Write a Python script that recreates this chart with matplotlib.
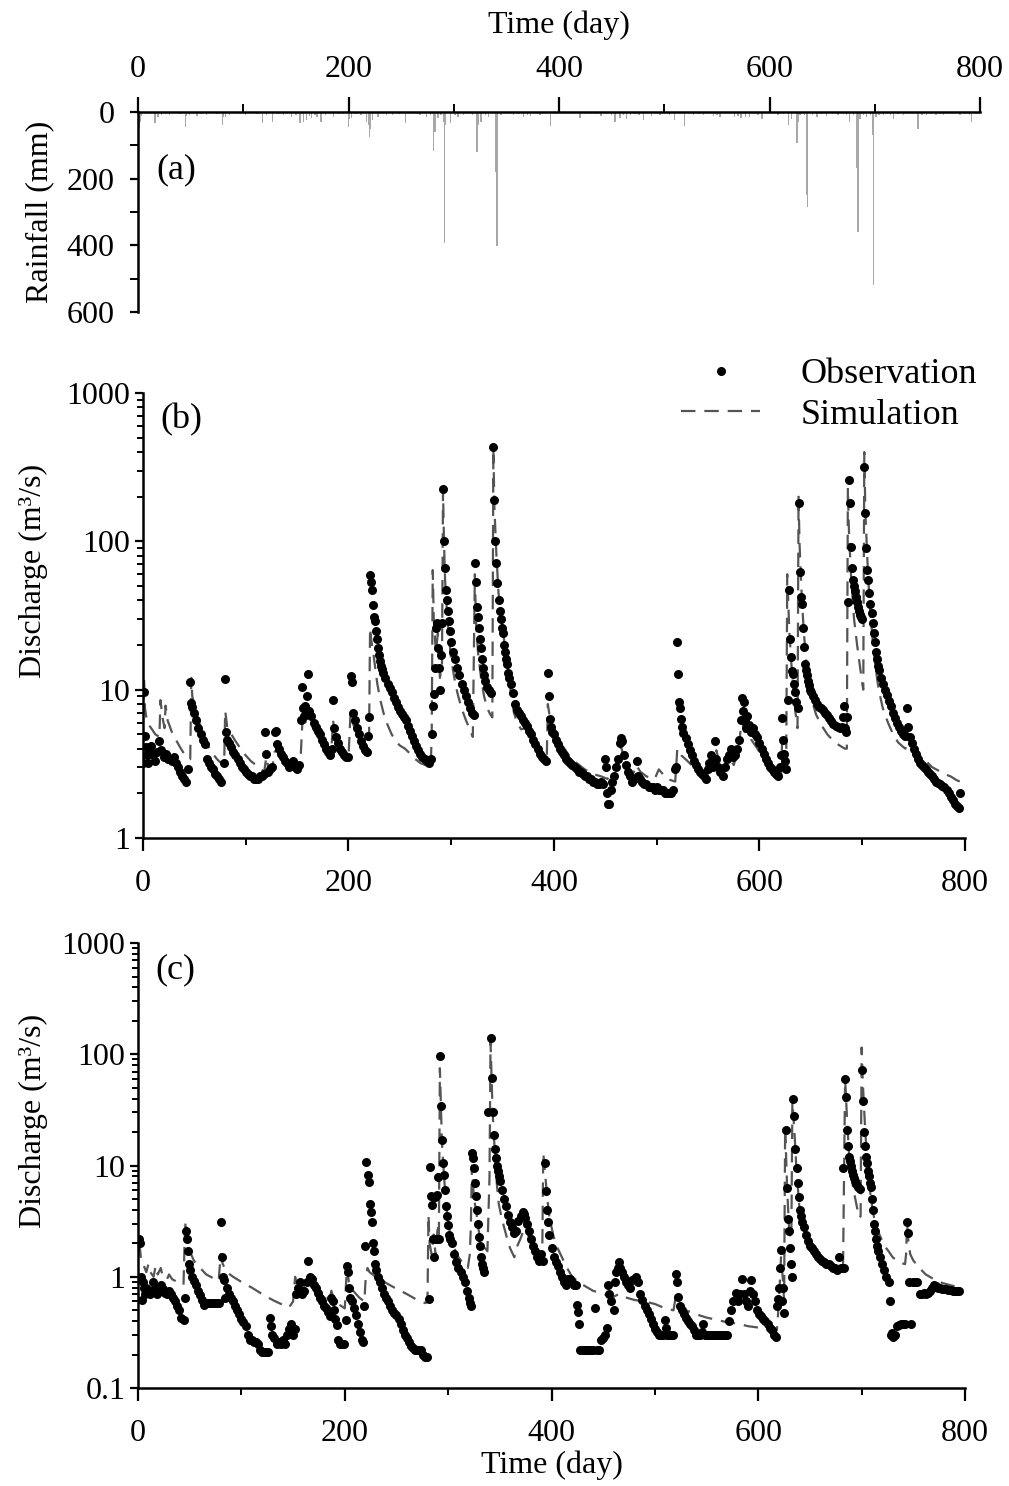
import matplotlib
matplotlib.use("Agg")
import matplotlib.pyplot as plt
from matplotlib.ticker import MultipleLocator, LogLocator, NullFormatter, FuncFormatter

plt.rcParams['font.family'] = ['Liberation Serif', 'DejaVu Serif']

# ---- data ----
# (a) daily rainfall (day, mm)
rain = [(1, 49), (2, 30), (3, 12), (6, 4), (9, 6), (13, 5), (16, 34), (19, 14), (22, 9), (26, 5),
        (30, 9), (35, 4), (40, 6), (45, 46), (46, 12), (49, 9), (53, 5), (56, 12), (60, 5), (65, 9),
        (70, 4), (75, 6), (80, 39), (81, 15), (83, 14), (87, 9), (92, 4), (97, 5), (102, 9), (108, 4),
        (113, 6), (118, 34), (122, 8), (128, 29), (133, 6), (138, 9), (142, 5), (146, 14), (150, 8), (154, 34),
        (157, 29), (160, 24), (163, 12), (165, 19), (168, 10), (170, 14), (174, 29), (178, 8), (182, 6), (186, 14),
        (190, 5), (195, 7), (200, 44), (201, 20), (203, 19), (207, 6), (212, 8), (217, 29), (219, 40), (220, 74),
        (221, 50), (223, 24), (228, 14), (232, 6), (236, 9), (242, 9), (248, 5), (254, 34), (260, 5), (265, 6),
        (268, 9), (274, 14), (278, 8), (281, 116), (282, 60), (285, 19), (288, 10), (290, 30), (291, 394), (292, 40),
        (297, 34), (301, 9), (304, 14), (309, 9), (314, 5), (318, 8), (322, 121), (323, 40), (326, 29), (330, 8),
        (333, 14), (337, 6), (340, 179), (341, 402), (345, 10), (350, 6), (357, 9), (362, 5), (366, 14), (370, 8),
        (373, 12), (378, 6), (382, 9), (387, 5), (392, 42), (396, 6), (401, 4), (404, 6), (407, 4), (412, 5),
        (420, 19), (425, 5), (430, 6), (436, 5), (440, 12), (445, 6), (450, 9), (453, 31), (458, 19), (461, 8),
        (464, 22), (468, 9), (472, 5), (476, 8), (480, 24), (484, 6), (488, 12), (492, 5), (496, 9), (500, 5),
        (505, 8), (510, 24), (515, 6), (519, 42), (524, 5), (528, 9), (533, 5), (537, 9), (542, 6), (547, 12),
        (550, 8), (553, 14), (558, 6), (562, 5), (567, 16), (570, 12), (573, 19), (577, 14), (581, 14), (585, 6),
        (589, 8), (593, 22), (598, 5), (603, 6), (608, 9), (613, 5), (618, 39), (621, 20), (626, 94), (627, 30),
        (629, 10), (633, 8), (635, 250), (636, 284), (641, 8), (645, 14), (649, 6), (654, 12), (660, 5), (665, 9),
        (670, 6), (673, 9), (676, 31), (680, 10), (683, 169), (684, 359), (686, 20), (689, 8), (692, 14), (696, 10),
        (698, 69), (699, 519), (701, 14), (704, 8), (708, 9), (712, 6), (715, 8), (718, 22), (722, 5), (727, 9),
        (732, 5), (736, 6), (741, 52), (745, 8), (749, 9), (753, 5), (758, 8), (762, 5), (765, 9), (770, 5),
        (775, 6), (781, 9), (786, 5), (790, 8), (792, 31), (796, 5)]

# (b) observed discharge (day, m3/s)
obs_b = [(0, 3.2), (1, 9.6), (2, 4.9), (3, 4.1), (4, 3.6), (5, 3.2), (6, 3.9), (8, 4.2), (10, 3.6), (12, 3.3),
         (14, 3.8), (16, 4.5), (18, 3.9), (20, 3.5), (22, 3.7), (24, 3.4), (26, 3.4), (28, 3.3), (30, 3.5), (32, 3.2),
         (34, 3.0), (36, 2.8), (38, 2.6), (40, 2.5), (42, 2.4), (44, 2.9),
         (46, 11.2), (47, 8.1), (48, 7.6), (50, 7.0), (52, 6.2), (54, 5.5), (56, 5.0), (58, 4.6), (60, 4.3),
         (62, 3.4), (64, 3.2), (66, 3.0), (68, 2.9), (70, 2.7), (72, 2.6), (74, 2.5), (76, 2.4), (79, 3.2),
         (80, 11.8), (81, 5.2), (82, 4.6), (84, 4.4), (86, 4.1), (88, 3.8), (90, 3.6), (92, 3.4), (94, 3.2), (96, 3.0),
         (98, 2.9), (100, 2.8), (102, 2.7), (104, 2.6), (106, 2.6), (108, 2.5), (110, 2.5), (112, 2.5), (114, 2.6),
         (116, 2.6), (118, 2.7), (119, 5.2), (120, 3.7), (122, 2.8), (124, 2.9), (126, 3.0), (128, 5.2), (129, 5.3),
         (130, 4.3), (132, 4.0), (134, 3.7), (136, 3.5), (138, 3.3), (140, 3.2), (142, 3.0), (144, 3.1), (146, 3.3),
         (148, 3.0), (150, 2.9), (152, 3.1),
         (154, 6.2), (155, 10.5), (156, 7.5), (157, 6.6), (158, 7.8), (160, 9.0), (161, 12.8), (162, 7.2), (164, 6.6),
         (166, 6.0), (168, 5.6), (170, 5.3), (172, 5.0), (174, 4.6), (176, 4.3), (178, 4.0), (180, 3.8), (182, 3.6),
         (184, 4.0), (185, 8.5), (186, 5.5), (188, 4.8), (190, 4.4), (192, 4.0), (194, 3.8), (196, 3.6), (198, 3.5),
         (200, 3.5), (202, 12.3), (203, 11.3), (204, 7.0), (206, 6.2), (208, 5.5), (210, 5.0), (212, 4.5), (214, 4.2),
         (216, 3.9), (218, 3.8), (219, 4.9), (220, 6.5),
         (221, 59), (222, 53), (223, 47), (224, 37), (225, 31), (226, 29), (227, 25), (228, 22), (229, 19), (230, 17),
         (231, 15.5), (232, 14.5), (233, 13.8), (234, 13), (236, 12), (238, 11), (240, 10.3), (242, 9.6), (244, 8.8),
         (246, 8.2), (248, 7.6), (250, 7.2), (252, 6.8), (254, 6.5), (256, 6.2), (258, 5.7), (260, 5.3), (262, 4.9),
         (264, 4.5), (266, 4.2), (268, 3.9), (270, 3.7), (272, 3.5), (274, 3.4), (276, 3.3), (278, 3.2), (280, 3.4),
         (281, 5.0), (282, 7.7), (283, 9.3), (284, 14), (285, 26), (286, 28), (287, 19), (288, 14), (289, 10),
         (290, 17), (291, 28), (292, 227), (293, 100), (294, 66), (295, 47), (296, 40), (297, 34), (298, 29), (299, 25),
         (300, 21), (302, 18), (304, 16), (306, 14), (308, 12.5), (310, 11), (312, 10), (314, 9), (316, 8.2),
         (318, 7.5), (320, 7.0), (322, 6.7),
         (323, 71), (324, 53), (325, 36), (326, 31), (327, 26), (328, 22), (329, 19), (330, 16), (331, 14), (332, 12.5),
         (333, 11.5), (335, 10.5), (337, 10), (339, 9.5), (341, 433), (342, 190), (343, 100), (344, 71), (345, 52),
         (346, 40), (347, 34), (348, 30), (349, 26), (350, 24), (351, 20), (352, 18), (353, 16), (354, 15), (355, 13),
         (356, 12), (358, 11), (360, 9.5), (362, 8), (364, 7.3), (366, 7.0), (368, 6.6), (370, 6.2), (372, 6.0),
         (374, 5.7), (376, 5.3), (378, 5.0), (380, 4.6), (382, 4.3), (384, 4.0), (386, 3.7), (388, 3.5), (390, 3.4),
         (392, 3.3),
         (394, 13), (395, 9.1), (396, 6.3), (397, 5.6), (398, 5.2), (400, 5.0), (402, 4.6), (404, 4.3), (406, 4.0),
         (408, 3.8), (410, 3.6), (412, 3.4), (414, 3.3), (416, 3.2), (418, 3.1), (420, 3.0), (422, 2.9), (424, 2.8),
         (426, 2.8), (428, 2.7), (430, 2.6), (432, 2.6), (434, 2.5), (436, 2.5), (438, 2.4), (440, 2.4), (442, 2.3),
         (444, 2.3), (446, 2.4), (448, 2.3),
         (450, 3.4), (451, 3.0), (452, 2.0), (453, 1.7), (454, 1.7), (455, 2.1), (456, 2.4), (458, 2.6), (460, 3.0),
         (462, 3.4), (464, 4.4), (465, 4.7), (466, 4.5), (468, 3.6), (470, 3.1), (472, 2.8), (474, 2.6), (476, 2.4),
         (478, 2.5), (481, 3.3), (482, 2.6), (484, 2.5), (486, 2.4), (488, 2.3), (490, 2.3), (492, 2.2), (494, 2.2),
         (496, 2.2), (498, 2.1), (500, 2.2), (502, 2.1), (504, 2.1), (506, 2.1), (508, 2.0), (510, 2.0), (512, 2.0),
         (514, 2.0), (516, 2.1), (518, 2.9),
         (519, 3.0), (520, 21), (521, 12.7), (522, 8.2), (523, 7.5), (524, 6.3), (525, 5.6), (526, 5.1), (528, 4.7),
         (530, 4.3), (532, 3.9), (534, 3.6), (536, 3.3), (538, 3.1), (540, 2.9), (542, 2.8), (544, 2.7), (546, 2.6),
         (548, 2.5), (550, 2.9), (551, 3.2), (553, 3.6), (555, 3.0), (557, 4.5), (558, 3.4), (560, 3.0), (562, 2.8),
         (564, 2.6), (566, 3.0), (568, 3.4), (570, 3.6), (572, 4.0), (574, 3.5), (576, 3.6), (578, 4.0), (580, 4.6),
         (582, 6.2), (583, 8.8), (584, 7.2), (585, 8.2), (586, 6.1), (587, 5.5), (588, 6.6), (590, 5.8), (592, 5.2),
         (594, 5.5), (596, 5.0), (598, 4.8), (600, 4.4), (602, 4.0), (604, 3.7), (606, 3.4), (608, 3.2), (610, 3.0),
         (612, 2.9), (614, 2.8), (616, 2.7), (618, 2.6),
         (620, 3.0), (621, 3.6), (622, 6.4), (623, 4.6), (624, 3.7), (625, 3.3), (626, 2.9), (628, 8.5), (629, 47),
         (630, 22), (631, 16.5), (632, 13.4), (633, 12.7), (634, 11), (635, 9.6), (636, 8.3), (637, 7.5), (638, 182),
         (639, 62), (640, 42), (641, 38), (642, 26), (643, 19.5), (644, 15), (645, 13.5), (646, 12.5), (647, 11.5),
         (648, 10.7), (649, 10), (650, 9.6), (652, 9.0), (654, 8.5), (656, 8.0), (658, 7.6), (660, 7.5), (662, 7.3),
         (664, 7.0), (666, 6.7), (668, 6.4), (670, 6.1), (672, 5.9), (674, 5.7), (676, 5.6), (678, 5.5), (680, 5.6),
         (681, 6.5), (682, 7.8), (683, 5.5), (684, 5.2),
         (685, 6.5), (686, 39), (687, 259), (688, 180), (689, 92), (690, 66), (691, 55), (692, 50), (693, 46),
         (694, 42), (695, 39), (696, 36), (697, 34), (698, 32), (699, 31), (700, 30), (702, 319), (703, 155),
         (704, 90), (705, 64), (706, 55), (707, 45), (708, 38), (709, 33), (710, 28), (711, 24), (712, 21), (713, 18),
         (714, 16), (715, 14.5), (716, 13.5), (718, 12), (720, 11), (722, 10), (724, 9.2), (726, 8.4), (728, 7.7),
         (730, 7.0), (732, 6.4), (734, 6.0), (736, 5.6), (738, 5.3), (740, 5.0), (742, 4.9), (744, 7.5), (745, 5.6),
         (746, 4.8), (748, 4.4), (750, 4.0), (752, 3.7), (754, 3.4), (756, 3.2), (758, 3.1), (760, 3.0), (762, 2.9),
         (764, 2.8), (766, 2.7), (768, 2.6), (770, 2.5), (772, 2.4), (774, 2.35), (776, 2.3), (778, 2.25), (780, 2.2),
         (782, 2.1), (784, 2.0), (786, 1.9), (788, 1.8), (790, 1.7), (792, 1.65), (794, 1.6), (795, 2.0)]

# (b) simulated discharge (day, m3/s)
sim_b = [(0, 6.0), (1, 12), (2, 7.5), (4, 6.0), (8, 5.5), (12, 5.0), (16, 4.8), (17, 8.5), (19, 6.5), (21, 5.5),
         (22, 7.8), (24, 6.2), (28, 5.2), (32, 4.6), (36, 4.1), (40, 3.7), (44, 3.5), (46, 3.4), (47, 12), (48, 9.0),
         (52, 7.0), (56, 5.6), (60, 4.7), (64, 4.1), (68, 3.7), (72, 3.4), (76, 3.2), (79, 3.1), (80, 7.2), (82, 5.6),
         (86, 5.0), (90, 4.5), (95, 4.0), (100, 3.6), (105, 3.3), (110, 3.1), (115, 2.9), (118, 2.8), (120, 3.5),
         (122, 3.0), (126, 3.0), (128, 3.8), (130, 3.9), (135, 3.6), (140, 3.3), (145, 3.1), (150, 3.0), (153, 3.0),
         (155, 5.8), (157, 7.0), (158, 6.0), (160, 8.0), (162, 6.2), (166, 5.4), (170, 4.8), (175, 4.3), (180, 3.8),
         (183, 3.6), (185, 6.2), (187, 4.8), (192, 4.1), (196, 3.7), (200, 3.5), (202, 7.0), (204, 6.0), (208, 5.1),
         (212, 4.4), (216, 4.0), (219, 3.8), (220, 4.5), (221, 26), (222, 22), (224, 18), (226, 14), (228, 11),
         (231, 8.5), (234, 7.0), (238, 5.8), (242, 5.0), (246, 4.5), (250, 4.2), (255, 4.0), (260, 3.7), (265, 3.4),
         (270, 3.2), (275, 3.1), (280, 3.0), (281, 5.0), (282, 64), (283, 30), (285, 18), (287, 24), (289, 12),
         (291, 15), (292, 220), (293, 95), (294, 55), (296, 32), (298, 22), (300, 16), (303, 12), (306, 9.5),
         (310, 7.5), (314, 6.3), (318, 5.4), (321, 4.8), (323, 60), (324, 30), (326, 18), (329, 12), (332, 9.0),
         (335, 7.5), (338, 6.8), (340, 6.5), (341, 430), (342, 170), (344, 80), (346, 45), (349, 30), (352, 20),
         (355, 14), (358, 9.5), (361, 7.0), (364, 6.0), (368, 5.4), (372, 5.5), (376, 4.9), (380, 4.5), (385, 4.0),
         (390, 3.6), (393, 3.5), (394, 8.0), (396, 6.5), (400, 5.4), (405, 4.5), (410, 4.0), (416, 3.5), (422, 3.2),
         (430, 2.9), (438, 2.7), (446, 2.6), (452, 2.5), (458, 2.8), (462, 3.4), (465, 4.2), (468, 3.5), (472, 3.0),
         (477, 2.7), (480, 3.1), (484, 2.8), (490, 2.6), (498, 2.5), (502, 2.9), (510, 2.5), (518, 2.4), (520, 4.0),
         (524, 3.6), (530, 3.3), (538, 2.9), (546, 2.7), (551, 3.4), (555, 3.0), (558, 3.9), (562, 3.0), (566, 2.8),
         (570, 3.5), (575, 3.1), (580, 4.2), (583, 6.5), (585, 5.0), (588, 5.8), (592, 4.6), (598, 4.0), (604, 3.4),
         (610, 3.0), (616, 2.7), (621, 2.6), (622, 4.5), (624, 3.6), (626, 3.3), (627, 60), (629, 25), (631, 15),
         (633, 10), (635, 7.0), (637, 5.5), (638, 200), (639, 95), (641, 45), (643, 25), (646, 14), (650, 9.0),
         (655, 6.8), (660, 5.8), (666, 5.0), (672, 4.5), (678, 4.2), (683, 4.0), (685, 4.0), (686, 230), (687, 120),
         (689, 60), (692, 30), (695, 20), (698, 14), (700, 11), (701, 10), (702, 400), (703, 160), (705, 75),
         (707, 40), (710, 22), (713, 14), (716, 10), (720, 7.5), (725, 6.0), (730, 5.0), (735, 4.4), (740, 4.1),
         (742, 4.0), (744, 5.3), (746, 4.5), (750, 4.0), (756, 3.6), (762, 3.3), (768, 3.0), (774, 2.85), (780, 2.7),
         (786, 2.6), (792, 2.45), (795, 2.4)]

# (c) observed discharge (day, m3/s)
obs_c = [(1, 2.2), (2, 2.0), (3, 1.0), (4, 0.62), (5, 0.89), (6, 0.8), (7, 0.7), (8, 0.8), (10, 0.76), (12, 0.7),
         (14, 0.9), (16, 0.8), (18, 0.7), (20, 0.75), (22, 0.85), (24, 0.78), (26, 0.72), (28, 0.7), (30, 0.75),
         (32, 0.7), (34, 0.65), (36, 0.6), (38, 0.55), (40, 0.5), (42, 0.43), (44, 0.41),
         (45, 0.65), (46, 2.6), (47, 2.2), (48, 1.7), (49, 1.3), (50, 1.15), (52, 1.0), (54, 0.92), (56, 0.85),
         (58, 0.75), (60, 0.68), (62, 0.62), (64, 0.56), (66, 0.58), (68, 0.58), (70, 0.58), (72, 0.58), (74, 0.58),
         (76, 0.58), (78, 0.58),
         (80, 3.1), (81, 1.5), (82, 1.0), (83, 0.94), (84, 0.65), (86, 0.8), (88, 0.7), (90, 0.65), (92, 0.6),
         (94, 0.55), (96, 0.5), (98, 0.46), (100, 0.42), (102, 0.39), (104, 0.36), (106, 0.3), (108, 0.27),
         (110, 0.27), (112, 0.26), (114, 0.26), (116, 0.25), (118, 0.22), (120, 0.21), (122, 0.21), (124, 0.21),
         (126, 0.21), (128, 0.43), (129, 0.36), (130, 0.3), (132, 0.28), (134, 0.25), (136, 0.26), (138, 0.25),
         (140, 0.27), (142, 0.25), (144, 0.3), (146, 0.34), (148, 0.38), (150, 0.3), (152, 0.34),
         (153, 0.7), (155, 0.8), (157, 0.89), (159, 0.7), (161, 0.75), (163, 0.9), (164, 1.38), (166, 1.0),
         (168, 0.95), (170, 0.85), (172, 0.8), (174, 0.72), (176, 0.65), (178, 0.6), (180, 0.55), (182, 0.52),
         (184, 0.48), (186, 0.44), (187, 0.65), (189, 0.6), (190, 0.5), (191, 0.42), (192, 0.37), (193, 0.27),
         (195, 0.25), (197, 0.25), (199, 0.25),
         (201, 0.41), (202, 1.26), (203, 1.1), (204, 0.8), (205, 0.65), (207, 0.6), (209, 0.52), (211, 0.45),
         (213, 0.38), (215, 0.32), (217, 0.27), (218, 0.26),
         (219, 0.55), (220, 1.9), (221, 10.8), (222, 8.2), (223, 7.1), (224, 4.5), (225, 3.8), (226, 3.1), (227, 2.0),
         (228, 1.7), (229, 1.3), (230, 1.15), (232, 1.0), (234, 0.9), (236, 0.8), (238, 0.7), (240, 0.65), (242, 0.6),
         (244, 0.55), (246, 0.5), (248, 0.47), (250, 0.45), (252, 0.42), (254, 0.38), (256, 0.33), (258, 0.3),
         (260, 0.28), (262, 0.26), (264, 0.24), (266, 0.23), (268, 0.22), (270, 0.22), (272, 0.22), (274, 0.22),
         (276, 0.2), (278, 0.19), (280, 0.19),
         (281, 0.63), (282, 9.8), (283, 5.3), (284, 4.4), (285, 2.2), (286, 1.5), (287, 5.2), (288, 2.2), (289, 5.4),
         (290, 7.9), (291, 2.2), (292, 97), (293, 34), (294, 17), (295, 10.6), (296, 8.3), (297, 6.0), (298, 4.3),
         (299, 3.5), (300, 2.9), (301, 2.4), (302, 2.2), (304, 2.0), (306, 1.6), (308, 1.35), (310, 1.2), (312, 1.1),
         (314, 1.0), (316, 0.9), (318, 0.75), (320, 0.65), (321, 0.58), (322, 0.55),
         (323, 13), (324, 11.6), (325, 9.6), (326, 7.0), (327, 5.3), (328, 4.0), (329, 3.0), (330, 2.3), (331, 1.9),
         (332, 1.5), (333, 1.3), (334, 1.2), (335, 1.1),
         (339, 30), (341, 140), (342, 61), (343, 30), (344, 19), (345, 14), (346, 11.6), (347, 10), (348, 9),
         (349, 8), (350, 7.2), (352, 6.0), (354, 5.0), (356, 4.3), (358, 3.6), (360, 3.1), (362, 2.8), (364, 2.5),
         (366, 2.6), (368, 3.2), (370, 3.5), (372, 3.8), (373, 3.7), (374, 3.4), (376, 3.0), (378, 2.6), (380, 2.2),
         (382, 1.9), (384, 1.7), (386, 1.5), (388, 1.4), (390, 1.6), (392, 1.4),
         (394, 10.6), (395, 5.9), (396, 4.0), (397, 3.1), (398, 2.4), (400, 1.8), (402, 1.5), (404, 1.35),
         (406, 1.25), (408, 1.1), (410, 1.0), (412, 0.9), (414, 0.85), (416, 0.95), (418, 0.95), (420, 0.9),
         (422, 0.85), (424, 0.85), (425, 0.56), (426, 0.48), (427, 0.38), (428, 0.22), (430, 0.22), (432, 0.22),
         (434, 0.22), (436, 0.22), (438, 0.22), (440, 0.22), (442, 0.52), (444, 0.22), (446, 0.22), (448, 0.27),
         (450, 0.28), (452, 0.3), (454, 0.35),
         (455, 0.84), (456, 0.7), (458, 0.6), (460, 0.5), (461, 0.9), (462, 1.1), (464, 1.2), (465, 1.35), (466, 1.2),
         (468, 1.1), (470, 1.0), (472, 0.9), (474, 0.85), (476, 0.8), (478, 0.93), (480, 0.95), (482, 1.0),
         (484, 0.9), (486, 0.7), (488, 0.62), (490, 0.55), (492, 0.5), (494, 0.46), (496, 0.42), (498, 0.38),
         (500, 0.34), (502, 0.32), (504, 0.3), (506, 0.3), (508, 0.3), (510, 0.41), (511, 0.35), (512, 0.3),
         (514, 0.3), (516, 0.3), (518, 0.3),
         (520, 1.07), (521, 0.9), (522, 0.66), (524, 0.55), (526, 0.5), (528, 0.46), (530, 0.43), (532, 0.4),
         (534, 0.38), (536, 0.36), (538, 0.33), (540, 0.3), (542, 0.3), (544, 0.3), (546, 0.32), (547, 0.38),
         (548, 0.3), (550, 0.3), (552, 0.3), (554, 0.3), (556, 0.3), (558, 0.3), (560, 0.3), (562, 0.3), (564, 0.3),
         (566, 0.3), (568, 0.3), (570, 0.3),
         (572, 0.4), (574, 0.5), (576, 0.6), (578, 0.72), (580, 0.6), (582, 0.7), (584, 0.95), (586, 0.7),
         (588, 0.6), (590, 0.55), (592, 0.75), (593, 0.93), (595, 0.7), (597, 0.6), (599, 0.5), (601, 0.46),
         (603, 0.44), (605, 0.42), (607, 0.4), (609, 0.38), (611, 0.35), (613, 0.33), (615, 0.3), (617, 0.29),
         (618, 0.55), (619, 0.63), (620, 0.8), (621, 1.2), (622, 1.73), (623, 0.6), (624, 0.8), (625, 0.47),
         (627, 21), (628, 6.3), (629, 3.3), (630, 2.6), (631, 1.8), (632, 1.3), (633, 1.0), (634, 40), (635, 28),
         (636, 14), (637, 9.6), (638, 7.0), (639, 5.2), (640, 4.0), (641, 3.5), (642, 3.1), (644, 2.8), (646, 2.4),
         (648, 2.1), (650, 1.9), (652, 1.8), (654, 1.7), (656, 1.6), (658, 1.5), (660, 1.45), (662, 1.4),
         (664, 1.35), (666, 1.3), (668, 1.3), (670, 1.25), (672, 1.2), (674, 1.2), (676, 1.15), (678, 1.5),
         (680, 1.2),
         (682, 9.6), (683, 1.2), (684, 60), (685, 41), (686, 21), (687, 15), (688, 12), (689, 11), (690, 10),
         (691, 9.0), (692, 8.3), (693, 7.7), (694, 7.2), (695, 6.8), (696, 6.4), (698, 6.2), (700, 72), (701, 38),
         (702, 20), (703, 15), (704, 12), (705, 10.5), (706, 9), (707, 8), (708, 7), (709, 6.4), (710, 5), (711, 4),
         (712, 3.0), (713, 2.6), (714, 2.2), (715, 1.9), (716, 1.7), (718, 1.5), (720, 1.3), (722, 1.15), (724, 1.0),
         (726, 0.9), (727, 0.6), (728, 0.3), (729, 0.31), (730, 0.29), (732, 0.3),
         (734, 0.36), (736, 0.37), (738, 0.38), (740, 0.38), (742, 0.38), (744, 3.1), (745, 2.5), (746, 0.9),
         (748, 0.38), (750, 0.9), (752, 0.9), (754, 0.9), (756, 0.7), (758, 0.7), (760, 0.72), (762, 0.7),
         (764, 0.72), (766, 0.75), (768, 0.8), (770, 0.85), (772, 0.82), (774, 0.8), (776, 0.8), (778, 0.78),
         (780, 0.78), (782, 0.78), (784, 0.76), (786, 0.76), (788, 0.75), (790, 0.75), (792, 0.75), (794, 0.75)]

# (c) simulated discharge (day, m3/s)
sim_c = [(0, 1.5), (1, 2.2), (3, 1.4), (5, 1.3), (8, 1.1), (10, 1.3), (12, 1.1), (15, 1.0), (17, 1.25), (19, 1.05),
         (22, 1.2), (24, 1.0), (28, 0.95), (30, 1.05), (33, 0.95), (38, 0.9), (42, 0.85), (44, 0.85), (45, 2.0),
         (46, 3.2), (47, 2.5), (48, 2.0), (50, 1.7), (54, 1.4), (58, 1.25), (62, 1.15), (66, 1.05), (72, 0.98),
         (78, 0.92), (80, 1.6), (82, 1.3), (86, 1.1), (92, 1.0), (100, 0.9), (110, 0.8), (120, 0.7), (130, 0.62),
         (140, 0.56), (146, 0.53), (150, 0.6), (152, 1.0), (154, 0.8), (158, 0.75), (163, 0.9), (165, 0.8),
         (170, 0.75), (178, 0.68), (185, 0.6), (187, 0.75), (190, 0.6), (196, 0.55), (200, 0.52), (202, 1.2),
         (204, 0.9), (208, 0.75), (214, 0.65), (219, 0.6), (220, 0.9), (222, 1.2), (224, 1.1), (230, 1.0),
         (240, 0.88), (250, 0.78), (260, 0.7), (270, 0.62), (278, 0.58), (280, 0.6), (281, 3.6), (282, 2.0),
         (284, 1.6), (286, 2.4), (288, 1.5), (290, 3.0), (291, 2.0), (292, 75), (293, 35), (294, 16), (296, 8),
         (298, 4.5), (300, 3.0), (303, 2.2), (306, 1.8), (310, 1.5), (315, 1.3), (319, 1.2), (321, 1.6), (322, 3.0),
         (323, 10), (324, 7), (325, 5), (327, 4.0), (329, 2.8), (331, 2.2), (334, 1.9), (338, 1.7), (340, 7.9),
         (341, 130), (342, 60), (343, 30), (345, 14), (347, 7), (349, 4.5), (352, 3.3), (356, 2.4), (360, 1.8),
         (364, 1.5), (367, 1.9), (370, 2.2), (374, 2.8), (378, 2.3), (382, 2.0), (386, 1.7), (390, 1.5), (391, 1.5),
         (392, 13), (394, 8), (396, 5), (398, 3.4), (402, 2.3), (406, 1.8), (410, 1.5), (415, 1.2), (420, 1.0),
         (430, 0.85), (440, 0.75), (450, 0.7), (460, 0.66), (465, 0.7), (470, 0.66), (480, 0.62), (490, 0.6),
         (500, 0.57), (510, 0.52), (518, 0.5), (520, 0.65), (522, 0.55), (530, 0.5), (540, 0.46), (550, 0.43),
         (560, 0.41), (570, 0.39), (580, 0.38), (590, 0.36), (600, 0.35), (610, 0.34), (618, 0.33), (620, 0.6),
         (622, 1.5), (624, 0.9), (625, 0.6), (626, 22), (628, 6), (630, 2.5), (632, 2.2), (633, 38), (635, 20),
         (637, 9), (640, 4.0), (645, 2.5), (650, 1.9), (656, 1.6), (662, 1.4), (668, 1.25), (674, 1.15), (680, 1.1),
         (682, 1.2), (684, 60), (686, 25), (688, 12), (690, 8), (693, 5.5), (696, 4.0), (698, 3.4), (699, 3.5),
         (700, 115), (701, 60), (703, 25), (705, 12), (708, 6), (711, 3.8), (714, 2.8), (718, 2.3), (722, 1.9),
         (726, 1.7), (730, 1.5), (736, 1.35), (742, 1.3), (743, 1.6), (744, 3.0), (745, 2.2), (747, 1.6), (750, 1.4),
         (756, 1.2), (762, 1.05), (770, 0.95), (778, 0.88), (786, 0.84), (795, 0.8)]

xticks = [0, 200, 400, 600, 800]

rain_day, rain_mm = zip(*rain)
obs_b_day, obs_b_q = zip(*obs_b)
sim_b_day, sim_b_q = zip(*sim_b)
obs_c_day, obs_c_q = zip(*obs_c)
sim_c_day, sim_c_q = zip(*sim_c)

TICK_FS = 23
LABEL_FS = 23
PANEL_FS = 26
SIM_COLOR = '#555555'

fig = plt.figure(figsize=(10.09, 14.86), dpi=100)
ax_a = fig.add_axes([0.1368, 0.7900, 0.8345, 0.1346])
ax_b = fig.add_axes([0.1417, 0.4361, 0.8147, 0.2994])
ax_c = fig.add_axes([0.1368, 0.0659, 0.8196, 0.2995])


def style(ax):
    for s in ax.spines.values():
        s.set_linewidth(1.8)
    ax.tick_params(which='major', direction='out', length=9, width=1.6, labelsize=TICK_FS, pad=5)
    ax.tick_params(which='minor', direction='out', length=5, width=1.4)
    ax.tick_params(axis='y', which='major', length=6, pad=3)
    ax.tick_params(axis='y', which='minor', length=4)


# ---- (a) rainfall ----
ax_a.bar(rain_day, rain_mm, width=1.3, color='#a8a8a8', linewidth=0)
ax_a.set_xlim(0, 800)
ax_a.set_ylim(600, 0)
ax_a.xaxis.tick_top()
ax_a.xaxis.set_label_position('top')
ax_a.set_xticks(xticks)
ax_a.xaxis.set_minor_locator(MultipleLocator(100))
ax_a.set_yticks([0, 200, 400, 600])
ax_a.yaxis.set_minor_locator(MultipleLocator(100))
ax_a.spines['right'].set_visible(False)
ax_a.spines['bottom'].set_visible(False)
style(ax_a)
ax_a.tick_params(axis='x', which='major', length=11, pad=9)
ax_a.tick_params(axis='x', which='minor', length=6)
ax_a.tick_params(axis='y', which='both', length=6)
ax_a.tick_params(axis='y', which='major', pad=11)
ax_a.set_xlabel('Time (day)', fontsize=LABEL_FS, labelpad=16)
ax_a.set_ylabel('Rainfall (mm)', fontsize=LABEL_FS)
ax_a.yaxis.set_label_coords(-0.099, 0.5)
ax_a.text(0.022, 0.71, '(a)', transform=ax_a.transAxes, fontsize=PANEL_FS, va='center', ha='left')

logfmt = FuncFormatter(lambda v, p: '%g' % v)


def discharge_axes(ax, day_o, q_o, day_s, q_s, ymin, label):
    ax.plot(day_s, q_s, linestyle=(0, (6.5, 4)), color=SIM_COLOR, linewidth=1.6, label='Simulation', zorder=2)
    ax.plot(day_o, q_o, 'o', color='black', markersize=6.5, markeredgewidth=0, label='Observation', zorder=3)
    ax.set_yscale('log')
    ax.set_ylim(ymin, 1000)
    ax.set_xlim(0, 800)
    ax.set_xticks(xticks)
    ax.xaxis.set_minor_locator(MultipleLocator(100))
    ax.yaxis.set_major_locator(LogLocator(base=10))
    ax.yaxis.set_minor_locator(LogLocator(base=10, subs=range(2, 10)))
    ax.yaxis.set_major_formatter(logfmt)
    ax.yaxis.set_minor_formatter(NullFormatter())
    ax.spines['right'].set_visible(False)
    ax.spines['top'].set_visible(False)
    style(ax)
    ax.tick_params(axis='x', which='major', pad=13)
    ax.set_ylabel('Discharge (m\u00b3/s)', fontsize=LABEL_FS)
    ax.text(0.021, 0.94, label, transform=ax.transAxes, fontsize=PANEL_FS, va='center', ha='left')


discharge_axes(ax_b, obs_b_day, obs_b_q, sim_b_day, sim_b_q, 1, '(b)')
ax_b.yaxis.set_label_coords(-0.116, 0.6)
discharge_axes(ax_c, obs_c_day, obs_c_q, sim_c_day, sim_c_q, 0.1, '(c)')
ax_c.yaxis.set_label_coords(-0.109, 0.6)
ax_c.set_xlabel('Time (day)', fontsize=LABEL_FS, labelpad=2)

h, l = ax_b.get_legend_handles_labels()
ax_b.legend([h[1], h[0]], [l[1], l[0]], loc='upper right', bbox_to_anchor=(0.968, 0.759),
            bbox_transform=fig.transFigure, frameon=False, fontsize=PANEL_FS, handlelength=2.2,
            handletextpad=1.1, labelspacing=0.2, borderpad=0, borderaxespad=0)

fig.savefig('out.png', dpi=100)
